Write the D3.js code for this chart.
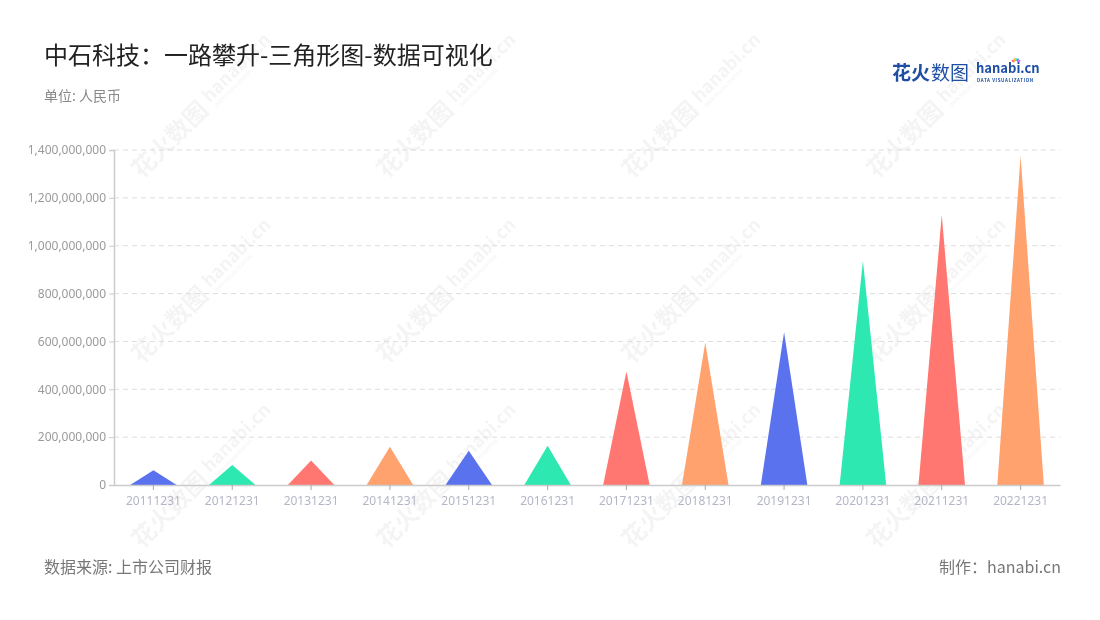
<!DOCTYPE html>
<html>
<head>
<meta charset="utf-8">
<script src="https://cdn.jsdelivr.net/npm/d3@7"></script>
<style>
  body { margin: 0; background: #fff; }
  svg { font-family: "Noto Sans CJK SC", "Noto Sans", sans-serif; }
</style>
</head>
<body>
<svg id="chart" width="1100" height="620"></svg>
<script>
const categories = ["20111231", "20121231", "20131231", "20141231", "20151231", "20161231",
  "20171231", "20181231", "20191231", "20201231", "20211231", "20221231"];
const revenue = [62000000, 84000000, 102000000, 160000000, 143000000, 164000000,
  474000000, 596000000, 638000000, 937000000, 1128000000, 1376000000];
const yTicks = [0, 200000000, 400000000, 600000000, 800000000, 1000000000, 1200000000, 1400000000];
const palette = ["#5a72ee", "#2de8b0", "#ff7770", "#ffa26e"];

const width = 1100, height = 620;
const margin = { top: 150, right: 40, bottom: 135, left: 114 };

const svg = d3.select("#chart");

// watermarks
const wm = svg.append("g").attr("opacity", 0.045);
[180, 425, 670, 915].forEach(x => {
  [130, 315, 500].forEach(y => {
    const g = wm.append("g").attr("transform", "translate(" + x + "," + y + ") rotate(-45)");
    g.append("text").text("花火数图").attr("x", -62).attr("y", 8)
      .style("font-size", "24px").style("font-weight", "bold").attr("fill", "#000");
    g.append("text").text("hanabi.cn").attr("x", 40).attr("y", 2)
      .style("font-size", "18px").style("font-weight", "bold").attr("fill", "#000");
    g.append("text").text("DATA VISUALIZATION").attr("x", 42).attr("y", 10)
      .style("font-size", "5px").style("font-weight", "bold").attr("fill", "#000");
  });
});

// title
svg.append("text").text("中石科技：一路攀升-三角形图-数据可视化")
  .attr("x", 44).attr("y", 64)
  .style("font-size", "24px").attr("fill", "#222");
svg.append("text").text("单位: 人民币")
  .attr("x", 44).attr("y", 101)
  .style("font-size", "14px").attr("fill", "#888");

// logo
const logo = svg.append("g");
logo.append("text").text("花火").attr("x", 892).attr("y", 80)
  .style("font-size", "19px").style("font-weight", "bold").attr("fill", "#1e4fa5");
logo.append("text").text("数图").attr("x", 931).attr("y", 80)
  .style("font-size", "19px").attr("fill", "#1e4fa5");
logo.append("text").text("hanabi.cn").attr("x", 976).attr("y", 73)
  .style("font-size", "13px").style("font-weight", "bold").attr("fill", "#1e4fa5");
logo.append("text").text("DATA VISUALIZATION").attr("x", 977).attr("y", 81.5)
  .style("font-size", "4.5px").style("font-weight", "bold").attr("fill", "#1e4fa5")
  .style("letter-spacing", "0.6px");
const burst = ["#ff5b5b", "#ffb400", "#2de8b0", "#5a72ee", "#d14dff"];
burst.forEach((c, i) => {
  const a = -Math.PI / 2 + (i - 2) * 0.5;
  logo.append("line")
    .attr("x1", 1016 + Math.cos(a) * 2).attr("y1", 63 + Math.sin(a) * 2)
    .attr("x2", 1016 + Math.cos(a) * 5).attr("y2", 63 + Math.sin(a) * 5)
    .attr("stroke", c).attr("stroke-width", 1.5);
});

const x = d3.scaleBand()
  .domain(categories)
  .range([margin.left, width - margin.right])
  .padding(0);

const y = d3.scaleLinear()
  .domain([0, 1400000000])
  .range([height - margin.bottom, margin.top]);

// grid lines
svg.append("g")
  .selectAll("line")
  .data(yTicks.slice(1))
  .enter()
  .append("line")
  .attr("x1", margin.left).attr("x2", width - margin.right)
  .attr("y1", d => y(d)).attr("y2", d => y(d))
  .attr("stroke", "#dddddd")
  .attr("stroke-dasharray", "5,4");

// triangles
const baseW = x.bandwidth() * 0.59;
svg.append("g")
  .selectAll("path")
  .data(revenue)
  .enter()
  .append("path")
  .attr("d", (d, i) => {
    const cx = x(categories[i]) + x.bandwidth() / 2;
    return "M" + (cx - baseW / 2) + "," + y(0) +
      "L" + cx + "," + y(d) +
      "L" + (cx + baseW / 2) + "," + y(0) + "Z";
  })
  .attr("fill", (d, i) => palette[i % palette.length]);

// y axis
const yAxis = svg.append("g")
  .attr("transform", "translate(" + margin.left + ",0)")
  .call(d3.axisLeft(y).tickValues(yTicks).tickFormat(d3.format(",")).tickSize(5).tickPadding(3));
yAxis.select(".domain").attr("stroke", "#cccccc").attr("stroke-width", 1.5);
yAxis.selectAll(".tick line").attr("stroke", "#cccccc");
yAxis.selectAll(".tick text")
  .attr("fill", "#9a9a9a")
  .style("font-size", "12px")
  .style("font-family", "'Noto Sans', sans-serif");

// x axis
const xAxis = svg.append("g")
  .attr("transform", "translate(0," + y(0) + ")")
  .call(d3.axisBottom(x).tickSize(5).tickPadding(6).tickSizeOuter(0));
xAxis.select(".domain").attr("stroke", "#cccccc").attr("stroke-width", 1.5);
xAxis.selectAll(".tick line").attr("stroke", "#aaaaaa");
xAxis.selectAll(".tick text")
  .attr("fill", "#b4b6c6")
  .style("font-size", "12px")
  .style("font-family", "'Noto Sans', sans-serif");

// footer
svg.append("text").text("数据来源: 上市公司财报")
  .attr("x", 44).attr("y", 573)
  .style("font-size", "16px").attr("fill", "#777");
svg.append("text").text("制作：hanabi.cn")
  .attr("x", 1061).attr("y", 573)
  .attr("text-anchor", "end")
  .style("font-size", "16px").attr("fill", "#777");
</script>
</body>
</html>
